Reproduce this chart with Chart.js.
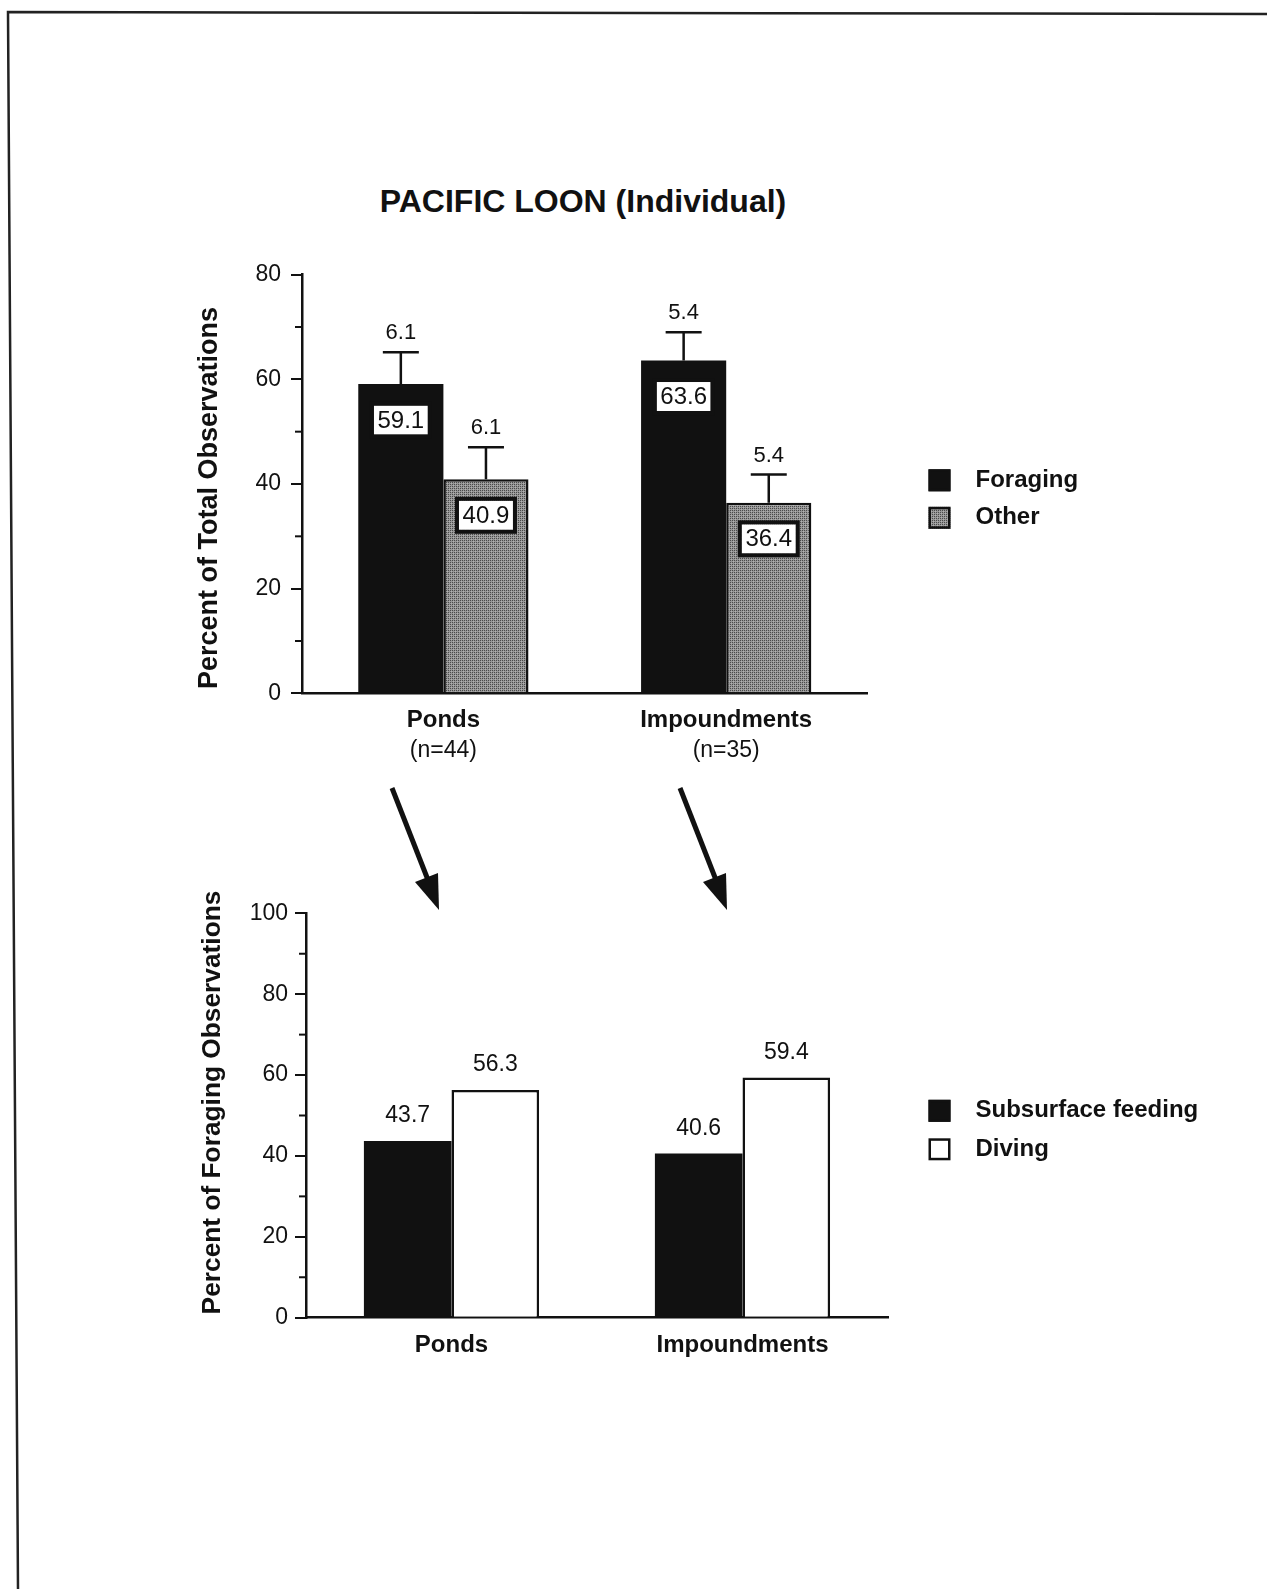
<!DOCTYPE html>
<html>
<head>
<meta charset="utf-8">
<title>Pacific Loon (Individual)</title>
<script src="https://cdn.jsdelivr.net/npm/chart.js@4.4.1/dist/chart.umd.min.js"></script>
<style>
    html, body { margin: 0; padding: 0; background: #fff; }
    body { width: 1267px; height: 1589px; position: relative; overflow: hidden;
           font-family: "Liberation Sans", Arial, Helvetica, sans-serif; }
    .frame { position: absolute; left: 0; top: 0; }
    #title { position: absolute; left: 0; width: 1166px; top: 183px; line-height: 36px;
             text-align: center; font-weight: bold; font-size: 32px; color: #111; }
    .chartbox { position: absolute; left: 0; width: 1267px; }
</style>
</head>
<body>
<svg class="frame" width="1267" height="1589">
    <polyline points="1267,14 8,12 18,1589" fill="none" stroke="#222" stroke-width="2.5"/>
    <!-- arrows between the two panels -->
    <line x1="392" y1="788" x2="428" y2="880" stroke="#111" stroke-width="5"/>
    <polygon points="439,910 438,873 415,882" fill="#111"/>
    <line x1="680" y1="788" x2="716" y2="880" stroke="#111" stroke-width="5"/>
    <polygon points="727,910 726,873 703,882" fill="#111"/>
</svg>
<div id="title">PACIFIC LOON (Individual)</div>
<div class="chartbox" style="top:150px;height:620px"><canvas id="topChart" width="1267" height="620"></canvas></div>
<div class="chartbox" style="top:820px;height:580px"><canvas id="bottomChart" width="1267" height="580"></canvas></div>

<script>
// --- data ---
const categories = ['Ponds', 'Impoundments'];
const sampleSizes = ['(n=44)', '(n=35)'];

const foraging = [59.1, 63.6];
const other = [40.9, 36.4];
const foragingErr = [6.1, 5.4];
const otherErr = [6.1, 5.4];

const subsurface = [43.7, 40.6];
const diving = [56.3, 59.4];

const topTicks = [0, 20, 40, 60, 80];
const bottomTicks = [0, 20, 40, 60, 80, 100];

const FONT = '"Liberation Sans", Arial, Helvetica, sans-serif';
const INK = '#111';

function makeGrayPattern() {
    const c = document.createElement('canvas');
    c.width = 4; c.height = 4;
    const g = c.getContext('2d');
    g.fillStyle = '#979797';
    g.fillRect(0, 0, 4, 4);
    g.fillStyle = '#4a4a4a';
    g.fillRect(0, 0, 1, 1); g.fillRect(2, 2, 1, 1);
    g.fillRect(2, 0, 1, 1); g.fillRect(0, 2, 1, 1);
    g.fillStyle = '#b0b0b0';
    g.fillRect(1, 3, 1, 1); g.fillRect(3, 1, 1, 1);
    return g.createPattern(c, 'repeat');
}
const grayFill = makeGrayPattern();

// extra drawing: minor ticks, error bars, value labels, legend, axis title
const decor = {
    id: 'decor',
    afterDraw(chart, args, opts) {
        const ctx = chart.ctx;
        const ys = chart.scales.y;
        const xs = chart.scales.x;
        const area = chart.chartArea;
        ctx.save();

        // minor ticks half way between labelled ticks
        ctx.strokeStyle = INK;
        ctx.lineWidth = 2;
        ys.ticks.slice(1).forEach((t, i) => {
            const py = ys.getPixelForValue((t.value + ys.ticks[i].value) / 2);
            ctx.beginPath();
            ctx.moveTo(area.left - 7, py);
            ctx.lineTo(area.left, py);
            ctx.stroke();
        });

        chart.data.datasets.forEach((ds, i) => {
            const meta = chart.getDatasetMeta(i);
            meta.data.forEach((bar, j) => {
                const val = ds.data[j];
                // error bars
                if (opts.errors) {
                    const err = opts.errors[i][j];
                    const yEnd = ys.getPixelForValue(val + err);
                    ctx.strokeStyle = INK;
                    ctx.lineWidth = 2.5;
                    ctx.beginPath();
                    ctx.moveTo(bar.x, bar.y);
                    ctx.lineTo(bar.x, yEnd);
                    ctx.moveTo(bar.x - 18, yEnd);
                    ctx.lineTo(bar.x + 18, yEnd);
                    ctx.stroke();
                    ctx.fillStyle = INK;
                    ctx.font = '22px ' + FONT;
                    ctx.textAlign = 'center';
                    ctx.textBaseline = 'middle';
                    ctx.fillText(err.toFixed(1), bar.x, yEnd - 19);
                }
                // values in white boxes inside the bars
                if (opts.boxes) {
                    const cy = bar.y + 36;
                    ctx.fillStyle = '#fff';
                    ctx.strokeStyle = INK;
                    ctx.lineWidth = 4;
                    ctx.fillRect(bar.x - 27, cy - 14.5, 54, 29);
                    ctx.strokeRect(bar.x - 29, cy - 16.5, 58, 33);
                    ctx.fillStyle = INK;
                    ctx.font = '24px ' + FONT;
                    ctx.textAlign = 'center';
                    ctx.textBaseline = 'middle';
                    ctx.fillText(val.toFixed(1), bar.x, cy + 1);
                }
                // values above the bars
                if (opts.above) {
                    ctx.fillStyle = INK;
                    ctx.font = '23px ' + FONT;
                    ctx.textAlign = 'center';
                    ctx.textBaseline = 'middle';
                    ctx.fillText(val.toFixed(1), bar.x, bar.y - 25);
                }
            });
        });

        // sample sizes under the category names
        if (opts.subLabels) {
            ctx.fillStyle = INK;
            ctx.font = '23px ' + FONT;
            ctx.textAlign = 'center';
            ctx.textBaseline = 'middle';
            opts.subLabels.forEach((s, j) => {
                ctx.fillText(s, xs.getPixelForValue(j), area.bottom + 57);
            });
        }

        // y axis title
        ctx.save();
        ctx.translate(opts.titleX, (area.top + area.bottom) / 2 + opts.titleShift);
        ctx.rotate(-Math.PI / 2);
        ctx.fillStyle = INK;
        ctx.font = 'bold ' + opts.titleSize + 'px ' + FONT;
        ctx.textAlign = 'center';
        ctx.textBaseline = 'middle';
        ctx.fillText(opts.title, 0, 0);
        ctx.restore();

        // legend
        const lg = opts.legend;
        chart.data.datasets.forEach((ds, i) => {
            const top = lg.y + i * lg.gap;
            ctx.fillStyle = ds.backgroundColor;
            ctx.fillRect(lg.x, top, 22, 22);
            ctx.strokeStyle = INK;
            ctx.lineWidth = 2.5;
            ctx.strokeRect(lg.x + 1.25, top + 1.25, 19.5, 19.5);
            ctx.fillStyle = INK;
            ctx.font = 'bold 24px ' + FONT;
            ctx.textAlign = 'left';
            ctx.textBaseline = 'middle';
            ctx.fillText(ds.label, lg.x + 47, top + 11);
        });

        ctx.restore();
    }
};

function axes(ticks, yWidth, tickPad) {
    return {
        x: {
            grid: { display: false, drawTicks: false },
            border: { display: true, color: INK, width: 2.5 },
            ticks: { color: INK, padding: 13, font: { family: FONT, size: 24, weight: 'bold' } },
            afterFit: s => { s.height = 60; }
        },
        y: {
            min: ticks[0],
            max: ticks[ticks.length - 1],
            afterBuildTicks: s => { s.ticks = ticks.map(v => ({ value: v })); },
            grid: { drawOnChartArea: false, drawTicks: true, tickLength: 11, color: INK, lineWidth: 2 },
            border: { display: true, color: INK, width: 2.5 },
            ticks: { color: INK, padding: tickPad, font: { family: FONT, size: 23 } },
            afterFit: s => { s.width = yWidth; }
        }
    };
}

new Chart(document.getElementById('topChart'), {
    type: 'bar',
    data: {
        labels: categories,
        datasets: [
            { label: 'Foraging', data: foraging, backgroundColor: '#111', borderWidth: 0 },
            { label: 'Other', data: other, backgroundColor: grayFill, borderColor: INK, borderWidth: 2.5 }
        ]
    },
    options: {
        responsive: false,
        animation: false,
        barPercentage: 1,
        categoryPercentage: 0.602,
        layout: { padding: { left: 190, right: 399.4, top: 124.7, bottom: 16.7 } },
        scales: axes(topTicks, 112, 10),
        plugins: {
            legend: { display: false },
            tooltip: { enabled: false },
            decor: {
                errors: [foragingErr, otherErr],
                boxes: true,
                subLabels: sampleSizes,
                title: 'Percent of Total Observations',
                titleSize: 27,
                titleX: 210,
                titleShift: 14,
                legend: { x: 928.5, y: 319.3, gap: 37.5 }
            }
        }
    },
    plugins: [decor]
});

new Chart(document.getElementById('bottomChart'), {
    type: 'bar',
    data: {
        labels: categories,
        datasets: [
            { label: 'Subsurface feeding', data: subsurface, backgroundColor: '#111', borderWidth: 0 },
            { label: 'Diving', data: diving, backgroundColor: '#fff', borderColor: INK, borderWidth: 2.5 }
        ]
    },
    options: {
        responsive: false,
        animation: false,
        barPercentage: 1,
        categoryPercentage: 0.602,
        layout: { padding: { left: 190, right: 379, top: 93.3, bottom: 22.3 } },
        scales: axes(bottomTicks, 116, 7),
        plugins: {
            legend: { display: false },
            tooltip: { enabled: false },
            decor: {
                above: true,
                title: 'Percent of Foraging Observations',
                titleSize: 26.3,
                titleX: 213,
                titleShift: -13,
                legend: { x: 928.5, y: 279.8, gap: 38.5 }
            }
        }
    },
    plugins: [decor]
});
</script>
</body>
</html>
